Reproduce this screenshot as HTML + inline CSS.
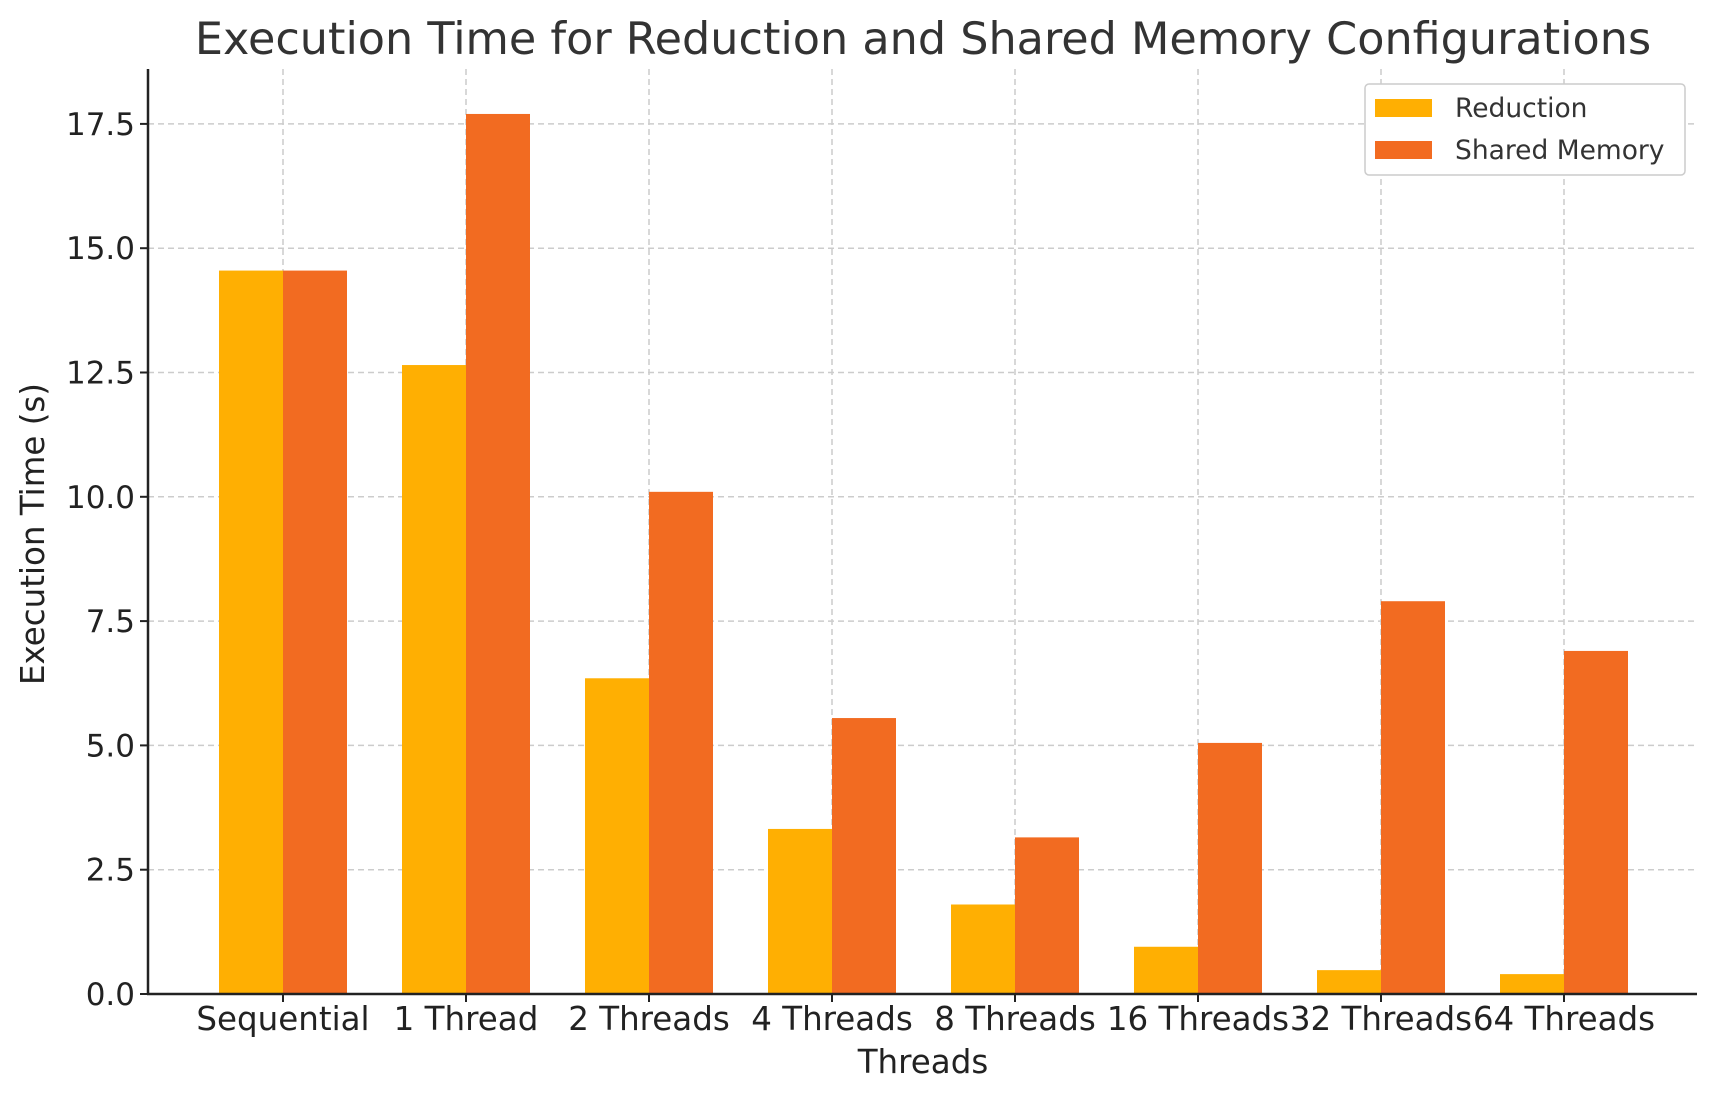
<!DOCTYPE html>
<html><head><meta charset="utf-8"><style>
body{margin:0;background:#fff}
svg text{font-family:"DejaVu Sans","Liberation Sans",sans-serif}
</style></head><body>
<svg id="chart" width="1718" height="1101" xmlns="http://www.w3.org/2000/svg">
<rect width="1718" height="1101" fill="#fff"/>
<text x="923" y="54" font-size="44.5" fill="#333" text-anchor="middle">Execution Time for Reduction and Shared Memory Configurations</text>
<g id="grid"></g><g id="bars"></g><g id="axes"></g>
<text x="923" y="1073" font-size="32.5" fill="#222" text-anchor="middle">Threads</text>
<text transform="translate(44,534) rotate(-90)" font-size="32.5" fill="#222" text-anchor="middle">Execution Time (s)</text>
<g>
<rect x="1365" y="84" width="320" height="91" fill="#fff" stroke="#ccc" stroke-width="1.5" rx="4"/>
<rect x="1375" y="99" width="57" height="18" fill="#FFAF02"/>
<text x="1455" y="117" font-size="26.5" fill="#333">Reduction</text>
<rect x="1375" y="141" width="57" height="18" fill="#F26B21"/>
<text x="1455" y="159" font-size="26.5" fill="#333">Shared Memory</text>
</g>
</svg>
<script>
const categories=["Sequential","1 Thread","2 Threads","4 Threads","8 Threads","16 Threads","32 Threads","64 Threads"];
const reduction=[14.55,12.65,6.35,3.32,1.8,0.95,0.48,0.4];
const sharedMemory=[14.55,17.7,10.1,5.55,3.15,5.05,7.9,6.9];
const yTicks=[0,2.5,5,7.5,10,12.5,15,17.5];
const NS="http://www.w3.org/2000/svg";
const x0=148,x1=1697,yTop=69,yBot=994;
const y=v=>yBot-v*(124.3/2.5);
const xc=i=>283+i*183;
const bw=64;
function mk(tag,attrs,parent){const e=document.createElementNS(NS,tag);for(const k in attrs)e.setAttribute(k,attrs[k]);parent.appendChild(e);return e;}
const grid=document.getElementById('grid'),bars=document.getElementById('bars'),axes=document.getElementById('axes');
yTicks.forEach(t=>{
  const l=mk('line',{x1:x0,x2:x1,y1:y(t),y2:y(t),stroke:'#ccc','stroke-width':1.5,'stroke-dasharray':'6,4'},grid);
  
  
  mk('line',{x1:x0-8,x2:x0,y1:y(t),y2:y(t),stroke:'#222','stroke-width':2},axes);
  const tx=mk('text',{x:x0-13,y:y(t)+11,'font-size':31,fill:'#222','text-anchor':'end'},axes);
  tx.textContent=t.toFixed(1);
  
  
});
categories.forEach((c,i)=>{
  const l=mk('line',{x1:xc(i),x2:xc(i),y1:yTop,y2:yBot,stroke:'#ccc','stroke-width':1.5,'stroke-dasharray':'6,4'},grid);
  
  
  const r=mk('rect',{x:xc(i)-bw,y:y(reduction[i]),width:bw,height:yBot-y(reduction[i]),fill:'#FFAF02'},bars);
  
  
  const s=mk('rect',{x:xc(i),y:y(sharedMemory[i]),width:bw,height:yBot-y(sharedMemory[i]),fill:'#F26B21'},bars);
  
  
  mk('line',{x1:xc(i),x2:xc(i),y1:yBot,y2:yBot+8,stroke:'#222','stroke-width':2},axes);
  const tx=mk('text',{x:xc(i),y:1030,'font-size':32.5,fill:'#222','text-anchor':'middle'},axes);
  tx.textContent=c;
  
  
});
mk('line',{x1:x0,x2:x0,y1:yTop,y2:yBot+1,stroke:'#222','stroke-width':2.5},axes);
mk('line',{x1:x0-1,x2:x1,y1:yBot,y2:yBot,stroke:'#222','stroke-width':2.5},axes);
</script>
</body></html>
